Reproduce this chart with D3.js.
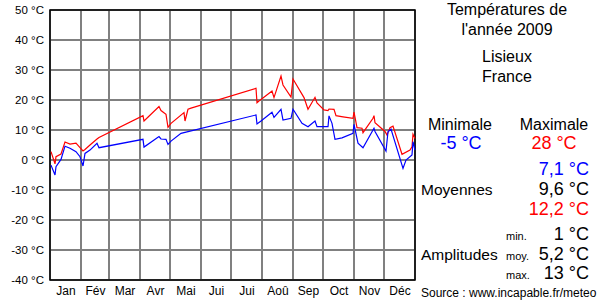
<!DOCTYPE html>
<html>
<head>
<meta charset="utf-8">
<script src="https://cdn.jsdelivr.net/npm/d3@7"></script>
<style>
  body { margin: 0; background: #fff; }
  svg { display: block; font-family: "Liberation Sans", Arial, sans-serif; }
</style>
</head>
<body>
<div id="chart"></div>
<script>
// températures 2009 - Lisieux
var months = ["Jan", "Fév", "Mar", "Avr", "Mai", "Jui", "Jui", "Aoû", "Sep", "Oct", "Nov", "Déc"];
var monthStarts = [0, 31, 59, 90, 120, 151, 181, 212, 243, 273, 304, 334, 365];
var tempTicks = [-40, -30, -20, -10, 0, 10, 20, 30, 40, 50];

// jour de l'année / température maxi (rouge)
var maxDays = [1, 5, 6, 11, 15, 20, 26, 30, 33, 35, 40, 47, 49, 93, 94, 109, 111, 116, 118, 121,
  134, 135, 138, 141, 206, 207, 211, 222, 224, 231, 233, 241, 243, 254, 258, 265, 267, 274,
  278, 279, 284, 286, 293, 303, 304, 307, 312, 313, 323, 324, 325, 335, 337, 340, 343, 352,
  360, 362, 363, 365];
var maxTemps = [2.8, -1.3, 1.1, 2, 6, 5.3, 5.6, 4.1, 3, 3.5, 5, 7, 7.5, 14.8, 13, 17.8, 16.5, 15.2, 10.9, 12.2,
  15.8, 13, 16.9, 17.3, 23.9, 19.1, 20.2, 23, 20.8, 28, 25, 21, 27, 20.8, 16.9, 20.9, 19, 16.7,
  16.5, 17, 16.9, 14.8, 14.4, 13.9, 16, 10.8, 10.6, 9.1, 13.9, 14.8, 12.4, 9.5, 8.3, 10.8, 11.3, 1.9,
  3.3, 4.4, 8.6, 7.2];

// jour de l'année / température mini (bleu)
var minDays = [1, 5, 6, 11, 15, 20, 26, 30, 33, 35, 40, 47, 49, 93, 94, 109, 111, 116, 118, 121,
  131, 135, 206, 207, 211, 222, 224, 231, 233, 241, 243, 252, 258, 265, 267, 278, 279, 282,
  285, 292, 303, 304, 308, 313, 324, 325, 336, 338, 341, 353, 356, 362, 363, 365];
var minTemps = [-1.7, -5, -2.2, 0.2, 4.6, 3.9, 2.8, 1.1, -2, 2.2, 3.3, 5.6, 4.1, 6.9, 4.3, 7.8, 7, 6.9, 5.2, 6.3,
  8.9, 9.2, 15, 12, 13, 15.9, 14.2, 16.9, 13.3, 13.9, 16.9, 12.2, 11.1, 13, 11.1, 11.1, 14.7, 12.2,
  6.9, 7.4, 8.9, 11.9, 5.6, 4.1, 10.6, 9.5, 3, 9.4, 10.3, -2.8, 0, 1.7, 6.1, 3.3];

const width = 600;
const height = 300;
const plotLeft = 50, plotRight = 415, plotTop = 10, plotBottom = 280;

const svg = d3.select("#chart").append("svg")
  .attr("width", width)
  .attr("height", height);

const x = d3.scaleLinear().domain([0, 365]).range([plotLeft, plotRight]);
const y = d3.scaleLinear().domain([-40, 50]).range([plotBottom, plotTop]);

// grille
svg.append("g")
  .selectAll("line")
  .data(tempTicks)
  .enter()
  .append("line")
  .attr("x1", plotLeft).attr("x2", plotRight)
  .attr("y1", d => y(d)).attr("y2", d => y(d))
  .attr("stroke", "#808080")
  .attr("stroke-width", 2);

svg.append("g")
  .selectAll("line")
  .data(monthStarts)
  .enter()
  .append("line")
  .attr("x1", d => x(d)).attr("x2", d => x(d))
  .attr("y1", plotTop).attr("y2", plotBottom)
  .attr("stroke", "#808080")
  .attr("stroke-width", 2);

// cadre
svg.append("rect")
  .attr("x", plotLeft).attr("y", plotTop)
  .attr("width", plotRight - plotLeft).attr("height", plotBottom - plotTop)
  .attr("fill", "none")
  .attr("stroke", "#000")
  .attr("stroke-width", 1.5);

// axe des températures
const yAxis = svg.append("g")
  .attr("transform", "translate(" + plotLeft + ",0)")
  .call(d3.axisLeft(y).tickValues(tempTicks).tickSize(0).tickPadding(6)
    .tickFormat(d => d + " °C"));
yAxis.select(".domain").remove();
yAxis.selectAll("text").attr("font-size", 11.5).attr("fill", "#000")
  .attr("font-family", "Liberation Sans, Arial, sans-serif");

// axe des mois
var monthMids = months.map((m, i) => (monthStarts[i] + monthStarts[i + 1]) / 2);
const xAxis = svg.append("g")
  .attr("transform", "translate(0," + plotBottom + ")")
  .call(d3.axisBottom(x).tickValues(monthMids).tickSize(0).tickPadding(6)
    .tickFormat((d, i) => months[i]));
xAxis.select(".domain").remove();
xAxis.selectAll("text").attr("font-size", 12).attr("fill", "#000")
  .attr("font-family", "Liberation Sans, Arial, sans-serif");

// courbes
function series(days, temps) {
  return days.map((d, i) => ({ day: d, temp: temps[i] }));
}
const line = d3.line().x(d => x(d.day)).y(d => y(d.temp));

svg.append("path")
  .datum(series(maxDays, maxTemps))
  .attr("fill", "none")
  .attr("stroke", "#ff0000")
  .attr("stroke-width", 1.2)
  .attr("d", line);

svg.append("path")
  .datum(series(minDays, minTemps))
  .attr("fill", "none")
  .attr("stroke", "#0000ff")
  .attr("stroke-width", 1.2)
  .attr("d", line);

// panneau de droite
function txt(tx, ty, s, size, anchor, color) {
  return svg.append("text")
    .attr("x", tx).attr("y", ty)
    .attr("font-size", size)
    .attr("text-anchor", anchor)
    .attr("fill", color || "#000")
    .text(s);
}

txt(507, 15, "Températures de", 16, "middle");
txt(507, 35, "l'année 2009", 16, "middle");
txt(507, 62, "Lisieux", 16, "middle");
txt(507, 82, "France", 16, "middle");

txt(460, 130, "Minimale", 16, "middle");
txt(554, 130, "Maximale", 16, "middle");
txt(461, 149, "-5 °C", 18, "middle", "#0000ff");
txt(554, 149, "28 °C", 18, "middle", "#ff0000");

txt(589, 175, "7,1 °C", 18, "end", "#0000ff");
txt(421, 195, "Moyennes", 15.5, "start");
txt(589, 195, "9,6 °C", 18, "end");
txt(589, 215, "12,2 °C", 18, "end", "#ff0000");

txt(506, 240, "min.", 11, "start");
txt(589, 240, "1 °C", 18, "end");
txt(421, 260, "Amplitudes", 15.5, "start");
txt(506, 260, "moy.", 11, "start");
txt(589, 260, "5,2 °C", 18, "end");
txt(506, 279, "max.", 11, "start");
txt(589, 279, "13 °C", 18, "end");

txt(421, 297, "Source : www.incapable.fr/meteo", 12, "start");
</script>
</body>
</html>
